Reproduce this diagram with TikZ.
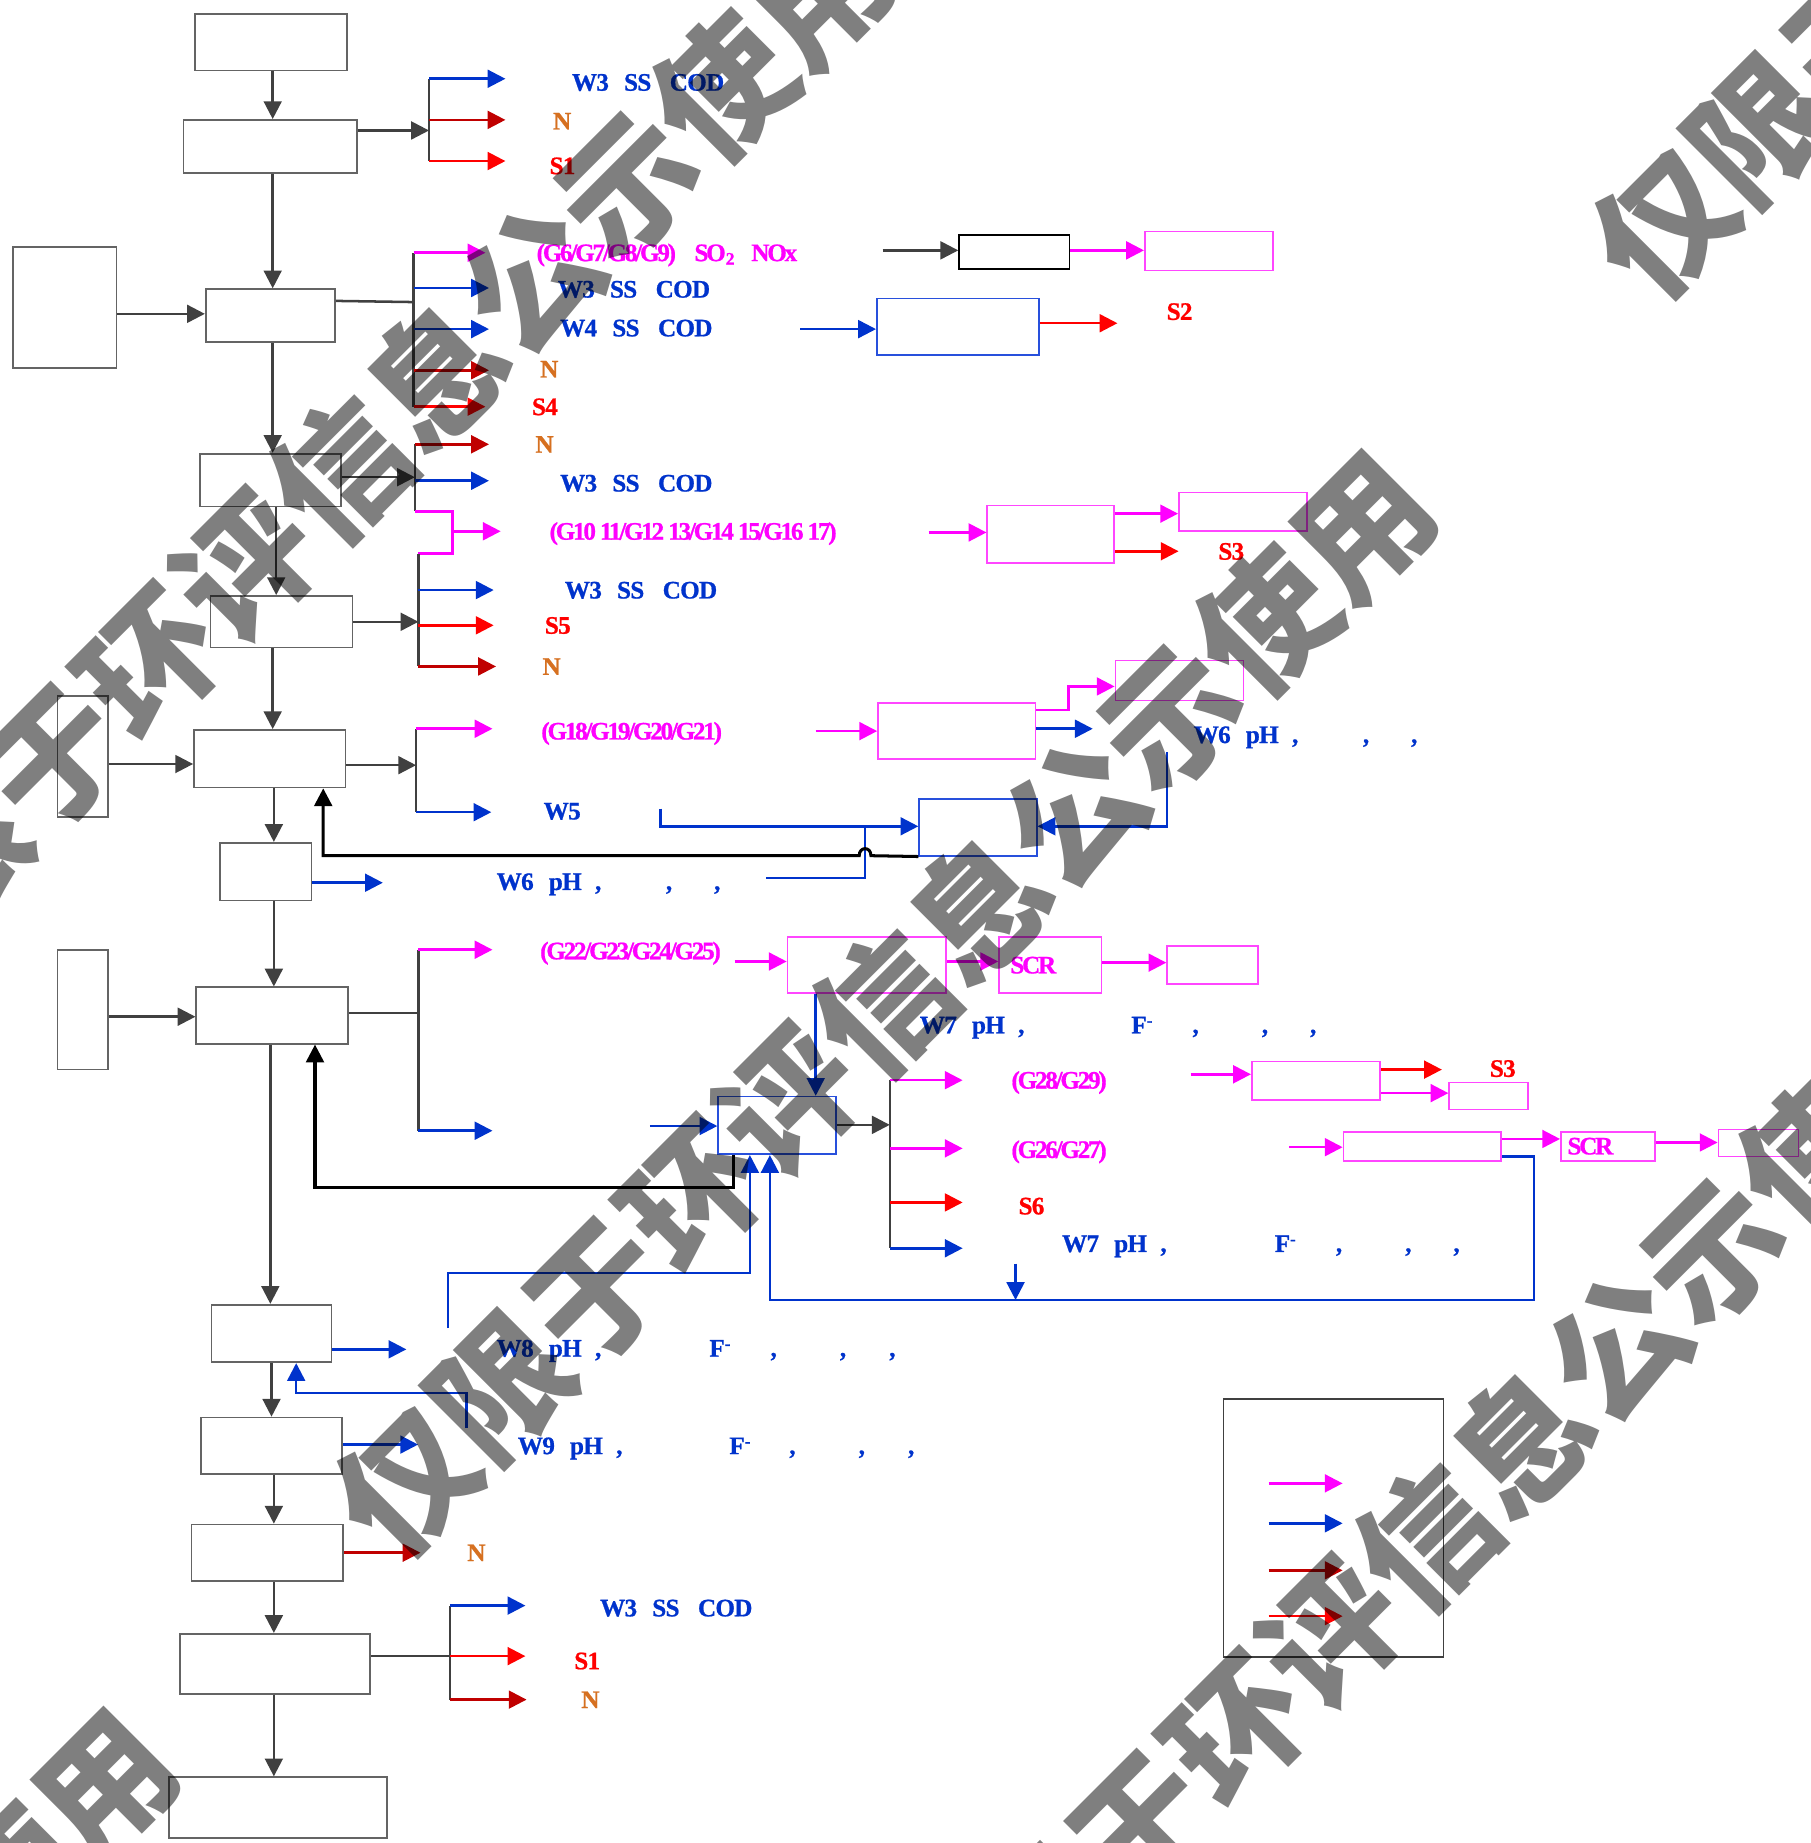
\documentclass[tikz,border=0pt]{standalone}
\usepackage{fontspec}
\setmainfont{Liberation Serif}
\newfontfamily\labf{Liberation Serif}[LetterSpace=-3,FakeBold=0.8]
\newfontfamily\glf{Liberation Serif}[LetterSpace=-9,FakeBold=0.8]
\newfontfamily\cjkf{Noto Sans CJK SC}
\usetikzlibrary{arrows.meta,fit}
\definecolor{cblue}{RGB}{0,51,204}
\definecolor{cmag}{RGB}{255,0,255}
\definecolor{cdred}{RGB}{192,0,0}
\definecolor{cred}{RGB}{255,0,0}
\definecolor{corange}{RGB}{214,112,32}
\definecolor{cdark}{RGB}{64,64,64}
\definecolor{cbox}{RGB}{100,100,100}
\definecolor{cboxb}{RGB}{40,80,220}
\definecolor{cboxm}{RGB}{255,70,255}
\newcommand{\fminus}{F\raisebox{2.2pt}{\fontsize{5}{5}\selectfont -}}
\begin{document}
\begin{tikzpicture}[x=0.35pt,y=-0.35pt,
  tip/.style={-{Triangle[length=5.3pt,width=5.3pt]}},
  ga/.style={draw=cdark,line width=0.75pt,tip},
  gl/.style={draw=cdark,line width=0.75pt},
  ba/.style={draw=cblue,line width=0.75pt,tip},
  bl/.style={draw=cblue,line width=0.75pt},
  ma/.style={draw=cmag,line width=0.75pt,tip},
  ml/.style={draw=cmag,line width=0.75pt},
  ra/.style={draw=cred,line width=0.75pt,tip},
  dra/.style={draw=cdred,line width=0.75pt,tip},
  ka/.style={draw=black,line width=0.9pt,tip},
  gbox/.style={draw=cbox,line width=0.5pt,inner sep=0pt},
  kbox/.style={draw=black,line width=0.5pt,inner sep=0pt},
  bbox/.style={draw=cboxb,line width=0.5pt,inner sep=0pt},
  mbox/.style={draw=cboxm,line width=0.5pt,inner sep=0pt},
  lab/.style={font=\labf\bfseries\fontsize{7.5}{8}\selectfont,inner sep=0pt,anchor=west,text height=5pt,text depth=0pt},
  lb/.style={lab,text=cblue},
  lm/.style={lab,text=cmag},
  lg/.style={lab,text=cmag,font=\glf\bfseries\fontsize{7.5}{8}\selectfont},
  lr/.style={lab,text=cred},
  lo/.style={lab,text=corange},
  wmark/.style={font=\cjkf\bfseries\fontsize{40.25}{40.25}\selectfont,text=black,text opacity=0.5,rotate=45,anchor=west,inner sep=0pt}
]
\useasboundingbox (0,0) rectangle (1540,1568);
\fill[white] (0,0) rectangle (1540,1568);

% ---------- main column boxes ----------
\node[gbox,fit={(166,12)(295,60)}] (b1) {};
\node[gbox,fit={(156,102)(304,147)}] (b2) {};
\node[gbox,fit={(175,246)(285,291)}] (b3) {};
\node[gbox,fit={(11,210)(99,313)}] (l1) {};
\node[gbox,fit={(170,386)(290,431)}] (b4) {};
\node[gbox,fit={(179,507)(300,551)}] (b5) {};
\node[gbox,fit={(49,592)(92,695)}] (l2) {};
\node[gbox,fit={(165,621)(294,670)}] (b6) {};
\node[gbox,fit={(187,717)(265,766)}] (b7) {};
\node[gbox,fit={(49,808)(92,910)}] (l3) {};
\node[gbox,fit={(167,840)(296,888)}] (b8) {};
\node[gbox,fit={(180,1110)(282,1159)}] (b9) {};
\node[gbox,fit={(171,1206)(291,1254)}] (b10) {};
\node[gbox,fit={(163,1297)(292,1345)}] (b11) {};
\node[gbox,fit={(153,1390)(315,1441)}] (b12) {};
\node[gbox,fit={(144,1512)(329,1564)}] (b13) {};

% ---------- side boxes ----------
\node[kbox,fit={(816,200)(910,229)}] (bk1) {};
\node[mbox,fit={(974,197)(1083,230)}] (m1) {};
\node[bbox,fit={(746,254)(884,302)}] (bx1) {};
\node[mbox,fit={(840,430)(948,479)}] (m2) {};
\node[mbox,fit={(1003,419)(1112,452)}] (m3) {};
\node[mbox,fit={(747,598)(881,646)}] (m4) {};
\node[mbox,fit={(949,562)(1058,596)}] (m5) {};
\node[bbox,fit={(782,680)(882,728)}] (bx2) {};
\node[mbox,fit={(670,797)(805,845)}] (m6) {};
\node[mbox,fit={(850,797)(937,845)}] (m7) {};
\node[mbox,fit={(993,805)(1070,837)}] (m8) {};
\node[bbox,fit={(611,933)(711,982)}] (bx3) {};
\node[mbox,fit={(1065,903)(1174,936)}] (m9) {};
\node[mbox,fit={(1233,921)(1300,944)}] (m10) {};
\node[mbox,fit={(1143,963)(1277,988)}] (m11) {};
\node[mbox,fit={(1328,963)(1408,988)}] (m12) {};
\node[mbox,fit={(1462,961)(1530,984)}] (m13) {};
\node[draw=cdark,line width=0.5pt,inner sep=0pt,fit={(1041,1190)(1228,1410)}] (leg) {};

% ---------- main vertical flow ----------
\draw[ga] (b1.south -| 232,0) -- (b2.north -| 232,0);
\draw[ga] (b2.south -| 232,0) -- (b3.north -| 232,0);
\draw[ga] (l1.east |- 0,267) -- (b3.west |- 0,267);
\draw[ga] (b3.south -| 232,0) -- (b4.north -| 232,0);
\draw[ga] (b4.south -| 235,0) -- (b5.north -| 235,0);
\draw[ga] (b5.south -| 232,0) -- (b6.north -| 232,0);
\draw[ga] (l2.east |- 0,650) -- (b6.west |- 0,650);
\draw[ga] (b6.south -| 233,0) -- (b7.north -| 233,0);
\draw[ga] (b7.south -| 233,0) -- (b8.north -| 233,0);
\draw[ga] (l3.east |- 0,865) -- (b8.west |- 0,865);
\draw[ga] (b8.south -| 230,0) -- (b9.north -| 230,0);
\draw[ga] (b9.south -| 231,0) -- (b10.north -| 231,0);
\draw[ga] (b10.south -| 233,0) -- (b11.north -| 233,0);
\draw[ga] (b11.south -| 233,0) -- (b12.north -| 233,0);
\draw[ga] (b12.south -| 233,0) -- (b13.north -| 233,0);

% ---------- B2 branch ----------
\coordinate (j2) at (365,111);
\draw[ga] (b2.east |- j2) -- (j2);
\draw[gl] (365,67) -- (365,137);
\draw[ba] (365,67) -- ++(65,0);
\draw[dra] (365,102) -- ++(65,0);
\draw[ra] (365,137) -- ++(65,0);

% ---------- B3 branch ----------
\coordinate (j3) at (352,257);
\draw[gl] (b3.east |- 0,256) -- (j3);
\draw[gl] (352,215) -- (352,346);
\draw[ma] (352,215) -- ++(61,0);
\draw[ba] (352,245) -- ++(64,0);
\draw[ba] (352,280) -- ++(64,0);
\draw[dra] (352,315) -- ++(64,0);
\draw[ra] (352,346) -- ++(61,0);
\draw[ga] (751,213) -- (bk1.west |- 0,213);
\draw[ma] (bk1.east |- 0,213) -- (m1.west |- 0,213);
\draw[ba] (681,280) -- (bx1.west |- 0,280);
\draw[ra] (bx1.east |- 0,275) -- ++(66,0);

% ---------- B4 branch ----------
\coordinate (j4) at (353,406);
\draw[ga] (b4.east |- j4) -- (j4);
\draw[gl] (353,378) -- (353,435);
\draw[dra] (353,378) -- ++(63,0);
\draw[ba] (353,409) -- ++(63,0);
\draw[ml] (353,435) -- (385,435) -- (385,471) -- (356,471);
\draw[ma] (385,452) -- ++(41,0);
\draw[ma] (790,453) -- (m2.west |- 0,453);
\draw[ma] (m2.east |- 0,437) -- (m3.west |- 0,437);
\draw[ra] (m2.east |- 0,469) -- ++(54,0);

% ---------- B5 branch ----------
\coordinate (j5) at (356,529);
\draw[ga] (b5.east |- j5) -- (j5);
\draw[gl] (356,471) -- (356,567);
\draw[ba] (356,502) -- ++(64,0);
\draw[ra] (356,532) -- ++(64,0);
\draw[dra] (356,567) -- ++(66,0);

% ---------- B6 branch ----------
\coordinate (j6) at (354,651);
\draw[ga] (b6.east |- j6) -- (j6);
\draw[gl] (354,620) -- (354,691);
\draw[ma] (354,620) -- ++(65,0);
\draw[ba] (354,691) -- ++(64,0);
\draw[ma] (694,622) -- (m4.west |- 0,622);
\draw[ma] (m4.east |- 0,604) -- (909,604) -- (909,584) -- (m5.west |- 0,584);
\draw[ba] (m4.east |- 0,620) -- ++(48,0);
\draw[ba] (993,640) -- (993,703) -- (bx2.east |- 0,703);
\draw[ba] (562,688) -- (562,703) -- (bx2.west |- 0,703);
\draw[ba] (b7.east |- 0,751) -- ++(60,0);
\draw[bl] (652,747) -- (736,747) -- (736,703);
\draw[ka] (bx2.south west) -- (741,728) .. controls (741,720) and (731,720) .. (731,728) -- (275,728) -- (b6.south -| 275,0);

% ---------- B8 branch ----------
\coordinate (j8) at (356,862);
\draw[gl] (b8.east |- j8) -- (j8);
\draw[gl] (356,808) -- (356,962);
\draw[ma] (356,808) -- ++(63,0);
\draw[ba] (356,962) -- ++(63,0);
\draw[ma] (625,818) -- (m6.west |- 0,818);
\draw[ma] (m6.east |- 0,818) -- (m7.west |- 0,818);
\draw[ma] (m7.east |- 0,819) -- (m8.west |- 0,819);
\draw[ba] (m6.south -| 694,0) -- (bx3.north -| 694,0);
\draw[ba] (553,958) -- (bx3.west |- 0,958);
\coordinate (jx) at (757,957);
\draw[ga] (bx3.east |- jx) -- (jx);
\draw[gl] (757,919) -- (757,1062);
\draw[ma] (757,919) -- ++(62,0);
\draw[ma] (757,977) -- ++(62,0);
\draw[ra] (757,1023) -- ++(62,0);
\draw[ba] (757,1062) -- ++(62,0);
\draw[ma] (1013,914) -- (m9.west |- 0,914);
\draw[ra] (m9.east |- 0,910) -- ++(52,0);
\draw[ma] (m9.east |- 0,930) -- (m10.west |- 0,930);
\draw[ma] (1097,976) -- (m11.west |- 0,976);
\draw[ma] (m11.east |- 0,969) -- (m12.west |- 0,969);
\draw[ma] (m12.east |- 0,972) -- (m13.west |- 0,972);
\draw[ba] (m11.east |- 0,984) -- (1305,984) -- (1305,1106) -- (655,1106) -- (bx3.south -| 655,0);
\draw[ba] (864,1075) -- (864,1106);
\draw[ka] (bx3.south -| 624,0) -- (624,1010) -- (268,1010) -- (b8.south -| 268,0);
\draw[ba] (381,1130) -- (381,1083) -- (638,1083) -- (bx3.south -| 638,0);

% ---------- lower part ----------
\draw[ba] (b9.east |- 0,1148) -- ++(63,0);
\draw[ba] (397,1215) -- (397,1185) -- (252,1185) -- (b9.south -| 252,0);
\draw[ba] (b10.east |- 0,1229) -- ++(64,0);
\draw[dra] (b11.east |- 0,1321) -- ++(65,0);
\coordinate (j12) at (383,1409);
\draw[gl] (b12.east |- j12) -- (j12);
\draw[gl] (383,1366) -- (383,1446);
\draw[ba] (383,1366) -- ++(64,0);
\draw[ra] (383,1409) -- ++(64,0);
\draw[dra] (383,1446) -- ++(65,0);

% ---------- legend ----------
\draw[ma] (leg.west |- 0,1262) ++(39,0) -- ++(63,0);
\draw[ba] (leg.west |- 0,1296) ++(39,0) -- ++(63,0);
\draw[dra] (leg.west |- 0,1336) ++(39,0) -- ++(63,0);
\draw[ra] (leg.west |- 0,1375) ++(39,0) -- ++(63,0);

% ---------- labels ----------
\node[lb] (t1) at (486,70) {W3\hspace{4.5pt}SS\hspace{5.5pt}COD};
\node[lo] (t2) at (470,103) {N};
\node[lr] (t3) at (467,141) {S1};
\node[lg] (t4) at (456,215) {(G6/G7/G8/G9)\hspace{5.5pt}SO\textsubscript{2}\hspace{4.5pt}NOx};
\node[lb] (t5) at (474,246) {W3\hspace{4.5pt}SS\hspace{5.5pt}COD};
\node[lb] (t6) at (476,279) {W4\hspace{4.5pt}SS\hspace{5.5pt}COD};
\node[lo] (t7) at (459,314) {N};
\node[lr] (t8) at (452,346) {S4};
\node[lr] (t9) at (992,265) {S2};
\node[lo] (t10) at (455,378) {N};
\node[lb] (t11) at (476,411) {W3\hspace{4.5pt}SS\hspace{5.5pt}COD};
\node[lg] (t12) at (467,452) {(G10 11/G12 13/G14 15/G16 17)};
\node[lr] (t13) at (1036,469) {S3};
\node[lb] (t14) at (480,502) {W3\hspace{4.5pt}SS\hspace{5.5pt}COD};
\node[lr] (t15) at (463,532) {S5};
\node[lo] (t16) at (461,567) {N};
\node[lg] (t17) at (460,622) {(G18/G19/G20/G21)};
\node[lb] (t18) at (1015,625) {W6\hspace{4.5pt}pH\hspace{4pt},};
\node[lb] (t18b) at (1159,625) {,};
\node[lb] (t18c) at (1200,625) {,};
\node[lb] (t19) at (462,690) {W5};
\node[lb] (t20) at (422,750) {W6\hspace{4.5pt}pH\hspace{4pt},};
\node[lb] (t20b) at (566,750) {,};
\node[lb] (t20c) at (607,750) {,};
\node[lg] (t21) at (459,809) {(G22/G23/G24/G25)};
\node[lg] (t22) at (859,821) {SCR};
\node[lb] (t23) at (782,872) {W7\hspace{4.5pt}pH\hspace{4pt},};
\node[lb] (t23a) at (962,872) {\fminus};
\node[lb] (t23b) at (1014,872) {,};
\node[lb] (t23c) at (1073,872) {,};
\node[lb] (t23d) at (1114,872) {,};
\node[lg] (t24) at (860,919) {(G28/G29)};
\node[lr] (t25) at (1267,909) {S3};
\node[lg] (t26) at (860,978) {(G26/G27)};
\node[lg] (t27) at (1333,975) {SCR};
\node[lr] (t28) at (866,1026) {S6};
\node[lb] (t29) at (903,1058) {W7\hspace{4.5pt}pH\hspace{4pt},};
\node[lb] (t29a) at (1084,1058) {\fminus};
\node[lb] (t29b) at (1136,1058) {,};
\node[lb] (t29c) at (1195,1058) {,};
\node[lb] (t29d) at (1236,1058) {,};
\node[lb] (t30) at (422,1147) {W8\hspace{4.5pt}pH\hspace{4pt},};
\node[lb] (t30a) at (603,1147) {\fminus};
\node[lb] (t30b) at (655,1147) {,};
\node[lb] (t30c) at (714,1147) {,};
\node[lb] (t30d) at (756,1147) {,};
\node[lb] (t31) at (440,1230) {W9\hspace{4.5pt}pH\hspace{4pt},};
\node[lb] (t31a) at (620,1230) {\fminus};
\node[lb] (t31b) at (671,1230) {,};
\node[lb] (t31c) at (730,1230) {,};
\node[lb] (t31d) at (772,1230) {,};
\node[lo] (t32) at (397,1321) {N};
\node[lb] (t33) at (510,1368) {W3\hspace{4.5pt}SS\hspace{5.5pt}COD};
\node[lr] (t34) at (488,1413) {S1};
\node[lo] (t35) at (494,1446) {N};

% ---------- watermark ----------
\begin{scope}
\clip (0,0) rectangle (1540,1568);
\node[wmark] (wm1) at (-158,848) {仅限于环评信息公示使用};
\node[wmark] (wm2) at (304,1302) {仅限于环评信息公示使用};
\node[wmark] (wm3) at (1374,232) {仅限于环评信息公示使用};
\node[wmark] (wm4) at (-766,2372) {仅限于环评信息公示使用};
\node[wmark] (wm5) at (766,1756) {仅限于环评信息公示使用};
\end{scope}
\end{tikzpicture}
\end{document}
